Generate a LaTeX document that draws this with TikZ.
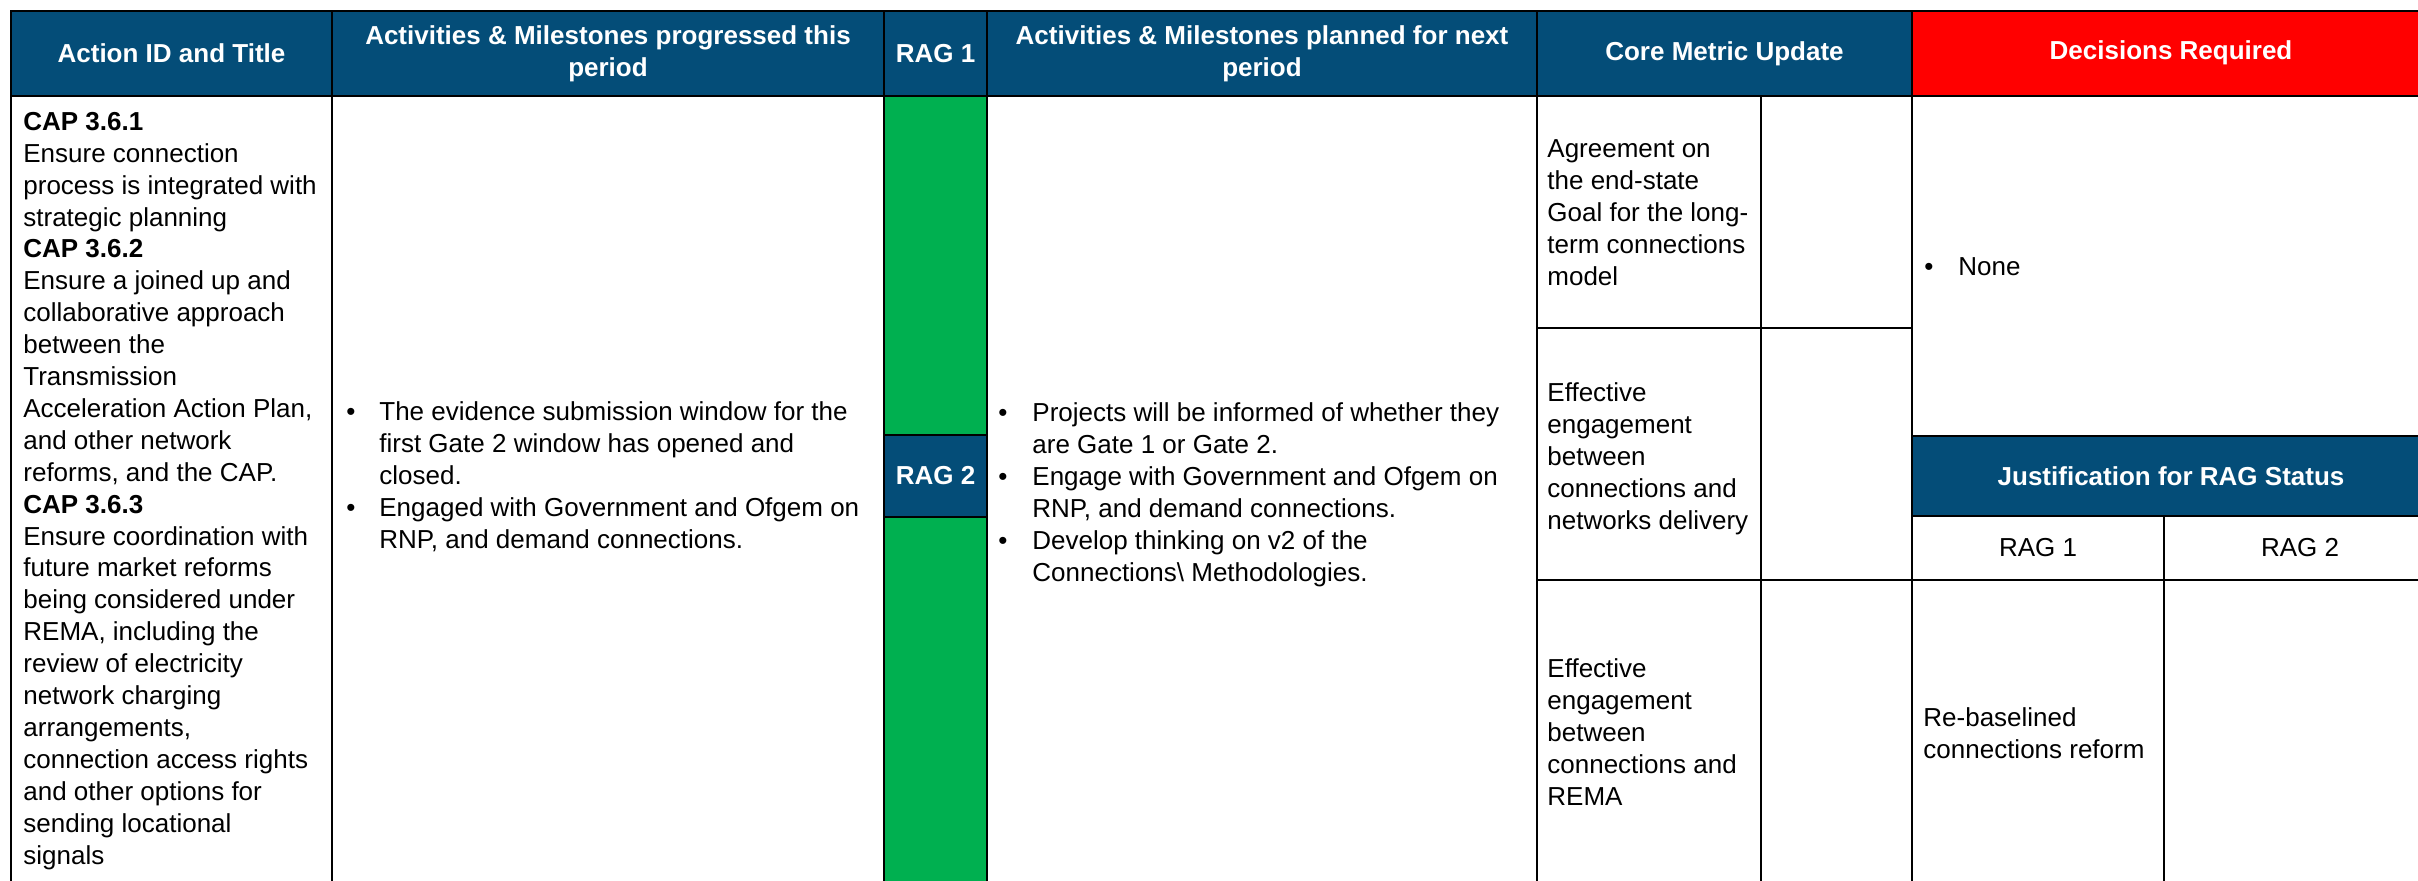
\documentclass[tikz,border=0pt]{standalone}
\usepackage{fontspec}
\setmainfont{Liberation Sans}
\usetikzlibrary{fit}
\definecolor{navy}{RGB}{4,77,120}
\definecolor{ragred}{RGB}{255,0,0}
\definecolor{raggreen}{RGB}{0,176,80}
\begin{document}
\begin{tikzpicture}[x=0.5pt,y=-0.5pt,
  cellbox/.style={draw=black,line width=1pt,inner sep=0pt},
  navycell/.style={cellbox,fill=navy},
  hdr/.style={text=white,font=\bfseries\fontsize{13}{15.95}\selectfont,align=center,inner sep=0pt},
  sub/.style={text=black,font=\fontsize{13}{15.95}\selectfont,align=center,inner sep=0pt},
  body/.style={font=\fontsize{13}{15.95}\selectfont,align=left,anchor=base west,inner sep=0pt},
  blt/.style={font=\fontsize{13}{15.95}\selectfont,anchor=base west,inner sep=0pt}]
\useasboundingbox (0,0) rectangle (2418,880);
\clip (0,0) rectangle (2418,880);
% header row
\node[navycell,fit={(11,11) (332,96)}] (h1) {};
\node[navycell,fit={(332,11) (884,96)}] (h2) {};
\node[navycell,fit={(884,11) (987,96)}] (h3) {};
\node[navycell,fit={(987,11) (1537,96)}] (h4) {};
\node[navycell,fit={(1537,11) (1912,96)}] (h5) {};
\node[cellbox,fill=ragred,fit={(1912,11) (2440,96)}] (h6) {};
% body cells
\node[cellbox,fit={(11,96) (332,900)}] (c1) {};
\node[cellbox,fit={(332,96) (884,900)}] (c2) {};
\node[cellbox,fill=raggreen,fit={(884,96) (987,435)}] (rga) {};
\node[navycell,fit={(884,435) (987,517)}] (rgb) {};
\node[cellbox,fill=raggreen,fit={(884,517) (987,900)}] (rgc) {};
\node[cellbox,fit={(987,96) (1537,900)}] (c4) {};
\node[cellbox,fit={(1537,96) (1761,328)}] (m1a) {};
\node[cellbox,fit={(1761,96) (1912,328)}] (m1b) {};
\node[cellbox,fit={(1537,328) (1761,580)}] (m2a) {};
\node[cellbox,fit={(1761,328) (1912,580)}] (m2b) {};
\node[cellbox,fit={(1537,580) (1761,900)}] (m3a) {};
\node[cellbox,fit={(1761,580) (1912,900)}] (m3b) {};
\node[cellbox,fit={(1912,96) (2440,436)}] (dec) {};
\node[navycell,fit={(1912,436) (2440,516)}] (just) {};
\node[cellbox,fit={(1912,516) (2164,580)}] (jr1) {};
\node[cellbox,fit={(2164,516) (2440,580)}] (jr2) {};
\node[cellbox,fit={(1912,580) (2164,900)}] (jt1) {};
\node[cellbox,fit={(2164,580) (2440,900)}] (jt2) {};
% header texts
\node[hdr] (t1) at (h1.center) {Action ID and Title};
\node[hdr] (t2) at (h2.center) {Activities \& Milestones progressed this\\period};
\node[hdr] (t3) at (h3.center) {RAG 1};
\node[hdr] (t4) at (h4.center) {Activities \& Milestones planned for next\\period};
\node[hdr] (t5) at (h5.center) {Core Metric Update};
\node[hdr] (t6) at (2171,53) {Decisions Required};
\node[hdr] (t7) at (rgb.center) {RAG 2};
\node[hdr] (t8) at (2171,476) {Justification for RAG Status};
\node[sub] (t9) at (jr1.center) {RAG 1};
\node[sub] (t10) at (2300,548) {RAG 2};
% body texts (anchor = baseline of last line)
\node[body] (a1) at (23,864) {\textbf{CAP 3.6.1}\\Ensure connection\\process is integrated with\\strategic planning\\\textbf{CAP 3.6.2}\\Ensure a joined up and\\collaborative approach\\between the\\Transmission\\Acceleration Action Plan,\\and other network\\reforms, and the CAP.\\\textbf{CAP 3.6.3}\\Ensure coordination with\\future market reforms\\being considered under\\REMA, including the\\review of electricity\\network charging\\arrangements,\\connection access rights\\and other options for\\sending locational\\signals};
\node[blt] (b1) at (346,420) {•};
\node[body] (p1) at (379,484) {The evidence submission window for the\\first Gate 2 window has opened and\\closed.};
\node[blt] (b2) at (346,516) {•};
\node[body] (p2) at (379,548) {Engaged with Government and Ofgem on\\RNP, and demand connections.};
\node[blt] (b3) at (998,421) {•};
\node[body] (n1) at (1032,453) {Projects will be informed of whether they\\are Gate 1 or Gate 2.};
\node[blt] (b4) at (998,485) {•};
\node[body] (n2) at (1032,517) {Engage with Government and Ofgem on\\RNP, and demand connections.};
\node[blt] (b5) at (998,549) {•};
\node[body] (n3) at (1032,581) {Develop thinking on v2 of the\\Connections\textbackslash{} Methodologies.};
\node[body] (k1) at (1547,285) {Agreement on\\the end-state\\Goal for the long-\\term connections\\model};
\node[body] (k2) at (1547,529) {Effective\\engagement\\between\\connections and\\networks delivery};
\node[body] (k3) at (1547,805) {Effective\\engagement\\between\\connections and\\REMA};
\node[blt] (b6) at (1924,275) {•};
\node[body] (d1) at (1958,275) {None};
\node[body] (j1) at (1923,758) {Re-baselined\\connections reform};
\end{tikzpicture}
\end{document}
